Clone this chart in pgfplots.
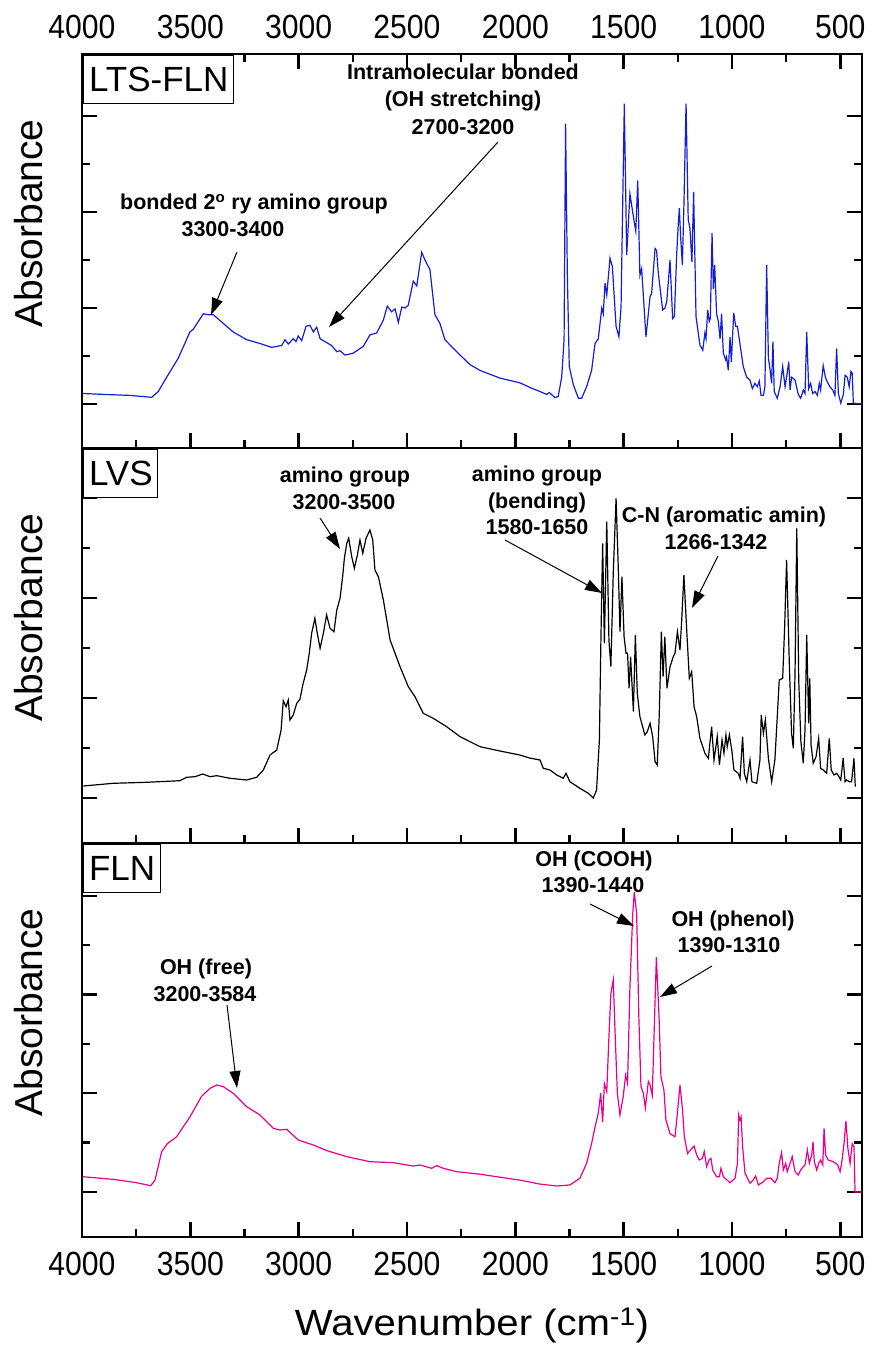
\documentclass[border=0pt]{standalone}
\usepackage{fontspec}
\setmainfont{Liberation Sans}
\newfontfamily\tickfont[FakeStretch=0.9]{Liberation Sans}
\newfontfamily\xlabfont[FakeStretch=1.1]{Liberation Sans}
\usepackage{pgfplots}
\pgfplotsset{compat=1.18}
\usetikzlibrary{arrows.meta}
\definecolor{ftblue}{RGB}{20,30,215}
\definecolor{ftpink}{RGB}{235,0,140}
\newcommand\annot{\bfseries\fontsize{21.5}{26}\selectfont}
\tikzset{plab/.style={draw, line width=0.9pt, fill=white, anchor=north west, inner xsep=5.3pt, minimum height=47.7pt, font=\fontsize{35}{38}\selectfont},
         ann/.style={anchor=base, font=\annot, inner sep=0pt},
         arr/.style={line width=1pt, -{Triangle[length=17pt,width=11pt]}}}
\pgfplotsset{
  ftir/.style={
    scale only axis, width=780pt,
    xmin=400, xmax=4000, x dir=reverse,
    xtick={500,1000,...,4000}, minor x tick num=1,
    ytick={0,1,2,3}, minor y tick num=1, yticklabels={},
    ytick pos=both,
    major tick length=15pt, minor tick length=8pt,
    tick style={line width=2.4pt, black},
    axis line style={line width=2.6pt},
    /pgf/number format/1000 sep={},
    /pgf/number format/assume math mode=true,
    tick label style={font=\tickfont\fontsize{33.5}{36}\selectfont},
    ylabel={Absorbance},
    ylabel style={at={(axis description cs:-0.05,0.57)}, anchor=base, font=\fontsize{39}{42}\selectfont},
    every axis plot/.append style={line width=1.2pt},
  }
}
\begin{document}
\begin{tikzpicture}
\useasboundingbox (-82pt,-116pt) rectangle (798pt,1237pt);
% ---------- top: LTS-FLN ----------
\begin{axis}[ftir, at={(0pt,789pt)}, height=394pt, ymin=-0.458, ymax=3.646,
  xtick pos=both, xticklabel pos=right, xticklabel style={inner sep=0pt, yshift=15pt}]
\addplot[ftblue] coordinates {(3997,0.11) (3900,0.10) (3780,0.09) (3678,0.07) (3648,0.13) (3609,0.28) (3555,0.48) (3502,0.75) (3486,0.78) (3440,0.94) (3417,0.93) (3394,0.93) (3348,0.84) (3302,0.75) (3240,0.67) (3178,0.63) (3124,0.59) (3078,0.61) (3063,0.67) (3048,0.625) (3025,0.68) (3012,0.65) (3002,0.71) (2986,0.66) (2966,0.81) (2948,0.82) (2932,0.75) (2917,0.80) (2901,0.68) (2871,0.64) (2848,0.61) (2824,0.545) (2809,0.555) (2786,0.51) (2748,0.53) (2702,0.60) (2671,0.72) (2640,0.74) (2609,0.875) (2591,1.02) (2571,0.96) (2555,0.99) (2540,0.85) (2524,1.01) (2509,1.00) (2494,1.03) (2471,1.28) (2455,1.23) (2432,1.58) (2417,1.50) (2394,1.40) (2371,0.93) (2348,0.84) (2325,0.67) (2271,0.545) (2209,0.41) (2163,0.35) (2071,0.27) (1978,0.22) (1930,0.17) (1886,0.13) (1855,0.10) (1843,0.12) (1817,0.066) (1802,0.08) (1786,0.28) (1775,0.67) (1768,2.92) (1760,1.36) (1751,0.39) (1732,0.20) (1709,0.06) (1694,0.06) (1671,0.18) (1648,0.35) (1632,0.63) (1617,0.68) (1601,1.00) (1594,0.94) (1586,1.26) (1578,1.135) (1563,1.52) (1552,1.43) (1535,0.81) (1522,0.70) (1512,1.01) (1497,3.13) (1486,1.55) (1471,2.19) (1455,1.95) (1444,1.80) (1435,2.33) (1425,1.34) (1417,1.41) (1397,0.70) (1378,1.12) (1371,1.15) (1355,1.62) (1348,1.60) (1340,1.36) (1320,0.98) (1309,1.00) (1301,1.07) (1286,1.50) (1274,0.89) (1266,0.91) (1255,1.57) (1248,1.87) (1243,2.04) (1237,1.74) (1229,1.45) (1222,2.06) (1212,3.13) (1202,1.92) (1194,1.83) (1185,1.48) (1177,2.21) (1166,0.91) (1148,0.615) (1135,0.56) (1125,0.74) (1120,0.68) (1112,0.98) (1105,0.86) (1100,0.89) (1092,1.78) (1086,1.20) (1080,1.45) (1071,0.94) (1063,0.86) (1055,0.68) (1048,0.94) (1040,0.53) (1029,0.46) (1025,0.49) (1017,0.35) (1009,0.70) (1003,0.44) (992,0.95) (983,0.81) (975,0.81) (966,0.67) (948,0.39) (932,0.28) (917,0.25) (906,0.16) (894,0.215) (883,0.18) (874,0.24) (866,0.09) (855,0.09) (848,0.18) (840,1.45) (832,0.48) (825,0.37) (817,0.215) (811,0.65) (805,0.13) (791,0.06) (778,0.18) (766,0.39) (755,0.18) (748,0.28) (738,0.44) (732,0.145) (725,0.28) (709,0.25) (694,0.10) (683,0.06) (671,0.145) (663,0.11) (655,0.75) (646,0.16) (637,0.215) (628,0.11) (617,0.13) (606,0.09) (597,0.215) (591,0.145) (579,0.40) (569,0.28) (560,0.23) (548,0.18) (535,0.145) (525,0.09) (517,0.58) (509,0.11) (498,0.01) (486,0.10) (478,0.30) (468,0.28) (459,0.18) (451,0.34) (445,0.32) (440,0.01) (400,0.0)};
\node[plab] at ([xshift=1.3pt,yshift=-1.3pt]rel axis cs:0,1) {LTS-FLN};
\end{axis}
% ---------- middle: LVS ----------
\begin{axis}[ftir, at={(0pt,394pt)}, height=395pt, ymin=-0.45, ymax=3.5,
  xtick pos=left, xticklabels={}]
\addplot[black] coordinates {(3994,0.12) (3855,0.147) (3701,0.157) (3548,0.173) (3517,0.207) (3478,0.213) (3443,0.24) (3409,0.213) (3378,0.223) (3317,0.197) (3240,0.18) (3194,0.207) (3163,0.28) (3132,0.43) (3101,0.48) (3081,0.68) (3071,0.973) (3058,0.913) (3048,0.98) (3040,0.78) (3025,0.83) (3009,0.947) (2994,0.987) (2981,1.13) (2963,1.28) (2951,1.447) (2940,1.647) (2925,1.797) (2914,1.647) (2901,1.497) (2886,1.647) (2871,1.83) (2855,1.697) (2837,1.663) (2824,1.88) (2809,1.997) (2797,2.213) (2789,2.397) (2778,2.547) (2769,2.597) (2755,2.413) (2743,2.297) (2729,2.43) (2717,2.58) (2704,2.447) (2689,2.597) (2671,2.68) (2658,2.58) (2648,2.28) (2632,2.213) (2609,1.98) (2578,1.58) (2532,1.313) (2494,1.113) (2463,1.013) (2425,0.847) (2379,0.797) (2317,0.713) (2255,0.613) (2163,0.513) (2071,0.47) (1980,0.43) (1935,0.40) (1886,0.38) (1871,0.297) (1840,0.28) (1809,0.23) (1779,0.197) (1766,0.247) (1748,0.163) (1702,0.097) (1663,0.047) (1640,0.0) (1625,0.08) (1612,0.58) (1605,1.58) (1597,2.547) (1589,1.547) (1578,2.763) (1568,1.58) (1559,1.313) (1548,2.247) (1535,2.997) (1525,2.313) (1517,1.663) (1508,2.213) (1498,1.613) (1489,1.447) (1482,1.447) (1475,1.097) (1468,1.413) (1455,0.863) (1446,1.63) (1437,1.047) (1425,0.813) (1402,0.63) (1391,0.663) (1378,0.747) (1366,0.613) (1355,0.363) (1345,0.33) (1336,0.813) (1326,1.663) (1318,1.213) (1310,1.613) (1300,1.097) (1286,1.313) (1271,1.413) (1263,1.447) (1252,1.663) (1240,1.48) (1232,1.78) (1222,2.23) (1209,1.68) (1197,1.197) (1186,1.263) (1175,0.913) (1163,0.813) (1148,0.597) (1125,0.447) (1109,0.397) (1094,0.713) (1083,0.38) (1068,0.613) (1058,0.33) (1046,0.58) (1037,0.447) (1028,0.63) (1022,0.513) (1012,0.63) (1001,0.48) (991,0.28) (971,0.247) (963,0.197) (951,0.613) (943,0.247) (932,0.163) (917,0.38) (908,0.163) (886,0.147) (871,0.38) (865,0.83) (855,0.647) (846,0.78) (832,0.397) (817,0.163) (802,0.38) (791,0.813) (782,1.18) (766,1.197) (757,1.713) (748,2.38) (735,1.313) (725,0.647) (717,0.497) (709,1.247) (701,2.697) (692,1.18) (682,0.563) (671,0.347) (663,0.68) (655,1.63) (646,0.747) (641,1.197) (635,0.53) (625,0.347) (612,0.413) (600,0.597) (591,0.297) (579,0.28) (563,0.247) (551,0.597) (542,0.28) (529,0.23) (517,0.247) (506,0.213) (498,0.18) (487,0.397) (478,0.163) (471,0.18) (459,0.163) (448,0.163) (437,0.397) (431,0.113)};
\node[plab] at ([xshift=1.3pt,yshift=-1.3pt]rel axis cs:0,1) {LVS};
\end{axis}
% ---------- bottom: FLN ----------
\begin{axis}[ftir, at={(0pt,0pt)}, height=394pt, ymin=-0.456, ymax=3.536,
  xtick pos=left, xticklabel style={inner sep=0pt, yshift=-15pt},
  xlabel={Wavenumber (cm\textsuperscript{-1})},
  xlabel style={at={(axis description cs:0.5,0)}, anchor=base, yshift=-98pt, font=\xlabfont\fontsize{36.5}{40}\selectfont}]
\addplot[ftpink] coordinates {(3997,0.155) (3855,0.128) (3748,0.094) (3683,0.064) (3663,0.12) (3632,0.41) (3606,0.49) (3563,0.56) (3502,0.76) (3448,0.97) (3409,1.05) (3378,1.084) (3348,1.067) (3302,1.0) (3240,0.864) (3178,0.78) (3117,0.645) (3086,0.628) (3055,0.635) (3002,0.527) (2932,0.476) (2871,0.42) (2778,0.358) (2671,0.307) (2563,0.297) (2471,0.263) (2440,0.274) (2386,0.24) (2363,0.267) (2332,0.24) (2271,0.206) (2163,0.18) (2071,0.15) (1978,0.12) (1886,0.08) (1809,0.061) (1748,0.071) (1702,0.139) (1671,0.29) (1648,0.49) (1632,0.66) (1617,0.80) (1606,1.0) (1597,0.71) (1589,1.10) (1578,1.016) (1568,1.57) (1559,2.01) (1548,2.15) (1540,1.64) (1529,1.00) (1517,0.78) (1502,0.966) (1491,1.185) (1482,1.10) (1471,2.08) (1458,2.82) (1451,3.04) (1440,2.82) (1430,1.78) (1420,1.067) (1409,1.0) (1400,0.85) (1386,1.12) (1378,1.084) (1368,0.98) (1359,1.64) (1349,2.38) (1343,2.08) (1336,1.74) (1328,1.17) (1314,1.03) (1305,0.73) (1286,0.59) (1263,0.56) (1252,0.80) (1240,1.084) (1228,0.83) (1220,0.56) (1205,0.39) (1186,0.44) (1175,0.466) (1163,0.375) (1151,0.324) (1137,0.34) (1128,0.41) (1117,0.257) (1106,0.324) (1097,0.34) (1089,0.223) (1071,0.155) (1058,0.155) (1051,0.24) (1040,0.155) (1009,0.094) (986,0.139) (975,0.29) (969,0.78) (963,0.73) (958,0.76) (951,0.46) (940,0.19) (917,0.088) (902,0.122) (891,0.162) (878,0.071) (855,0.104) (840,0.139) (820,0.139) (802,0.094) (791,0.139) (782,0.29) (771,0.40) (763,0.223) (752,0.29) (745,0.206) (732,0.29) (722,0.358) (709,0.206) (694,0.172) (683,0.223) (671,0.257) (663,0.274) (652,0.425) (643,0.29) (632,0.375) (626,0.51) (620,0.307) (609,0.223) (600,0.29) (591,0.324) (581,0.274) (575,0.645) (568,0.375) (556,0.324) (532,0.307) (512,0.274) (501,0.206) (494,0.29) (483,0.49) (474,0.72) (465,0.44) (455,0.29) (445,0.49) (437,0.46) (432,0.0) (400,0.0)};
\node[plab] at ([xshift=1.3pt,yshift=-1.3pt]rel axis cs:0,1) {FLN};
\end{axis}
% ---------- annotations ----------
\node[ann] at (172pt,1027pt) {bonded 2\textsuperscript{o} ry amino group};
\node[ann] at (151pt,1000pt) {3300-3400};
\draw[arr] (155pt,985pt) -- (129pt,922pt);
\node[ann] at (381pt,1157pt) {Intramolecular bonded};
\node[ann] at (381pt,1130pt) {(OH stretching)};
\node[ann] at (381pt,1102pt) {2700-3200};
\draw[arr] (416pt,1095pt) -- (247pt,910pt);
\node[ann] at (263pt,754pt) {amino group};
\node[ann] at (262pt,727pt) {3200-3500};
\draw[arr] (238pt,719pt) -- (258pt,688pt);
\node[ann] at (455pt,755pt) {amino group};
\node[ann] at (455pt,728pt) {(bending)};
\node[ann] at (455pt,702pt) {1580-1650};
\draw[arr] (423pt,697pt) -- (520pt,644pt);
\node[ann] at (642pt,714pt) {C-N (aromatic amin)};
\node[ann] at (634pt,687pt) {1266-1342};
\draw[arr] (636pt,681pt) -- (610pt,629pt);
\node[ann] at (124pt,262pt) {OH (free)};
\node[ann] at (123pt,235pt) {3200-3584};
\draw[arr] (145pt,232pt) -- (155pt,149pt);
\node[ann] at (512pt,370pt) {OH (COOH)};
\node[ann] at (511pt,344pt) {1390-1440};
\draw[arr] (508pt,333pt) -- (552pt,311pt);
\node[ann] at (651pt,310pt) {OH (phenol)};
\node[ann] at (647pt,284pt) {1390-1310};
\draw[arr] (630pt,271pt) -- (578pt,240pt);
\end{tikzpicture}
\end{document}
